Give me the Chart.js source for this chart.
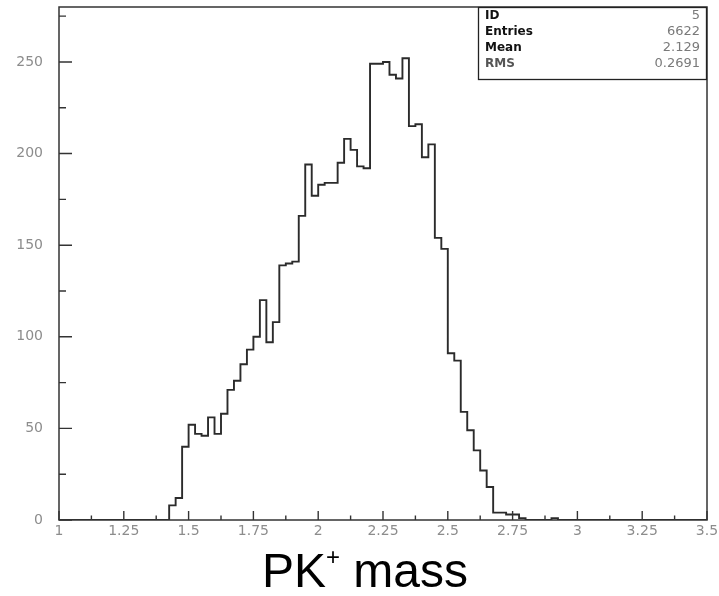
<!DOCTYPE html>
<html>
<head>
<meta charset="utf-8">
<script src="https://cdn.jsdelivr.net/npm/chart.js@4/dist/chart.umd.min.js"></script>
<style>
  html, body { margin: 0; padding: 0; background: #fff; }
  #wrap { width: 719px; height: 596px; }
</style>
</head>
<body>
<div id="wrap"><canvas id="c" width="719" height="596"></canvas></div>
<script>
// Histogram range and contents (100 bins of 0.025)
const histMin = 1.0;
const histMax = 3.5;
const counts = [
  0, 0, 0, 0, 0, 0, 0, 0, 0, 0,
  0, 0, 0, 0, 0, 0, 0, 8, 12, 40,
  52, 47, 46, 56, 47, 58, 71, 76, 85, 93,
  100, 120, 97, 108, 139, 140, 141, 166, 194, 177,
  183, 184, 184, 195, 208, 202, 193, 192, 249, 249,
  250, 243, 241, 252, 215, 216, 198, 205, 154, 148,
  91, 87, 59, 49, 38, 27, 18, 4, 4, 3,
  3, 1, 0, 0, 0, 0, 1, 0, 0, 0,
  0, 0, 0, 0, 0, 0, 0, 0, 0, 0,
  0, 0, 0, 0, 0, 0, 0, 0, 0, 0
];

// Axis tick labels
const xTickLabels = ['1', '1.25', '1.5', '1.75', '2', '2.25', '2.5', '2.75', '3', '3.25', '3.5'];
const yTickLabels = ['0', '50', '100', '150', '200', '250'];
const yMax = 280;

// Statistics box contents
const statLabels = ['ID', 'Entries', 'Mean', 'RMS'];
const statValues = ['5', '6622', '2.129', '0.2691'];

// Axis title pieces
const titleMain = 'PK';
const titleSup = '+';
const titleRest = ' mass';

const xTicks = xTickLabels.map(Number);
const yTicks = yTickLabels.map(Number);
const binWidth = (histMax - histMin) / counts.length;
const points = counts.map((c, i) => ({ x: histMin + i * binWidth, y: c }));
points.push({ x: histMax, y: 0 });

const tickFont = { family: 'DejaVu Sans', size: 14 };
const tickColor = '#8c8c8c';

function noPadding(s) {
  s.paddingLeft = 0; s.paddingRight = 0; s.paddingTop = 0; s.paddingBottom = 0;
}

const framePlugin = {
  id: 'frame',
  afterDraw(chart) {
    const { ctx, chartArea: a, scales } = chart;
    const xs = scales.x, ys = scales.y;
    ctx.save();
    ctx.strokeStyle = '#333';
    ctx.lineWidth = 1.5;
    ctx.strokeRect(a.left, a.top, a.right - a.left, a.bottom - a.top);

    // y ticks (major + minor), pointing into the frame
    ctx.lineWidth = 1.4;
    ctx.beginPath();
    const yStep = yTicks[1] - yTicks[0];
    for (let i = 0; i < yTicks.length; i++) {
      const py = ys.getPixelForValue(yTicks[i]);
      ctx.moveTo(a.left, py); ctx.lineTo(a.left + 13, py);
      const mid = yTicks[i] + yStep / 2;
      if (mid < yMax) {
        const pm = ys.getPixelForValue(mid);
        ctx.moveTo(a.left, pm); ctx.lineTo(a.left + 7, pm);
      }
    }
    // x ticks (major + minor)
    for (let i = 0; i < xTicks.length; i++) {
      const px = xs.getPixelForValue(xTicks[i]);
      ctx.moveTo(px, a.bottom); ctx.lineTo(px, a.bottom - 9);
      if (i < xTicks.length - 1) {
        const pm = xs.getPixelForValue((xTicks[i] + xTicks[i + 1]) / 2);
        ctx.moveTo(pm, a.bottom); ctx.lineTo(pm, a.bottom - 4.5);
      }
    }
    ctx.stroke();

    // statistics box
    const bx = 478, by = a.top, bw = a.right - 478, bh = 72;
    ctx.fillStyle = '#fff';
    ctx.fillRect(bx, by, bw, bh);
    ctx.lineWidth = 1.3;
    ctx.strokeStyle = '#222';
    ctx.strokeRect(bx + 0.5, by + 0.5, bw - 1, bh);
    ctx.textBaseline = 'middle';
    for (let i = 0; i < statLabels.length; i++) {
      const ty = by + 9 + i * 16;
      ctx.font = 'bold 12px "DejaVu Sans"';
      ctx.fillStyle = i < 3 ? '#111' : '#555';
      ctx.textAlign = 'left';
      ctx.fillText(statLabels[i], bx + 7, ty);
      ctx.font = '13px "DejaVu Sans"';
      ctx.fillStyle = '#7a7a7a';
      ctx.textAlign = 'right';
      ctx.fillText(statValues[i], bx + bw - 7, ty);
    }

    // x-axis title with superscript
    ctx.fillStyle = '#000';
    ctx.textBaseline = 'alphabetic';
    ctx.textAlign = 'left';
    const big = '48px "Liberation Sans", Arial, sans-serif';
    const small = '24px "Liberation Sans", Arial, sans-serif';
    ctx.font = big;
    const w1 = ctx.measureText(titleMain).width;
    const w3 = ctx.measureText(titleRest).width;
    ctx.font = small;
    const w2 = ctx.measureText(titleSup).width;
    const total = w1 + w2 + w3;
    let tx = 365 - total / 2;
    const base = 587;
    ctx.font = big;
    ctx.fillText(titleMain, tx, base);
    tx += w1;
    ctx.font = small;
    ctx.fillText(titleSup, tx, base - 22);
    tx += w2;
    ctx.font = big;
    ctx.fillText(titleRest, tx, base);
    ctx.restore();
  }
};

new Chart(document.getElementById('c'), {
  type: 'line',
  data: {
    datasets: [{
      data: points,
      stepped: true,
      borderColor: '#2b2b2b',
      borderWidth: 1.9,
      pointRadius: 0,
      fill: false
    }]
  },
  options: {
    responsive: false,
    animation: false,
    devicePixelRatio: 1,
    layout: { padding: { left: 0, right: 12, top: 7, bottom: 0 } },
    plugins: { legend: { display: false }, tooltip: { enabled: false } },
    scales: {
      x: {
        type: 'linear',
        min: histMin,
        max: histMax,
        afterBuildTicks: s => { s.ticks = xTicks.map(v => ({ value: v })); },
        afterFit: s => { s.height = 76; noPadding(s); },
        grid: { display: false, drawTicks: false },
        border: { display: false },
        ticks: {
          padding: 3, color: tickColor, font: tickFont, maxRotation: 0, autoSkip: false,
          callback: (v) => xTickLabels[xTicks.indexOf(v)]
        }
      },
      y: {
        type: 'linear',
        min: 0,
        max: yMax,
        afterBuildTicks: s => { s.ticks = yTicks.map(v => ({ value: v })); },
        afterFit: s => { s.width = 59; noPadding(s); },
        grid: { display: false, drawTicks: false },
        border: { display: false },
        ticks: {
          padding: 16, color: tickColor, font: tickFont, autoSkip: false,
          callback: (v) => yTickLabels[yTicks.indexOf(v)]
        }
      }
    }
  },
  plugins: [framePlugin]
});
</script>
</body>
</html>
